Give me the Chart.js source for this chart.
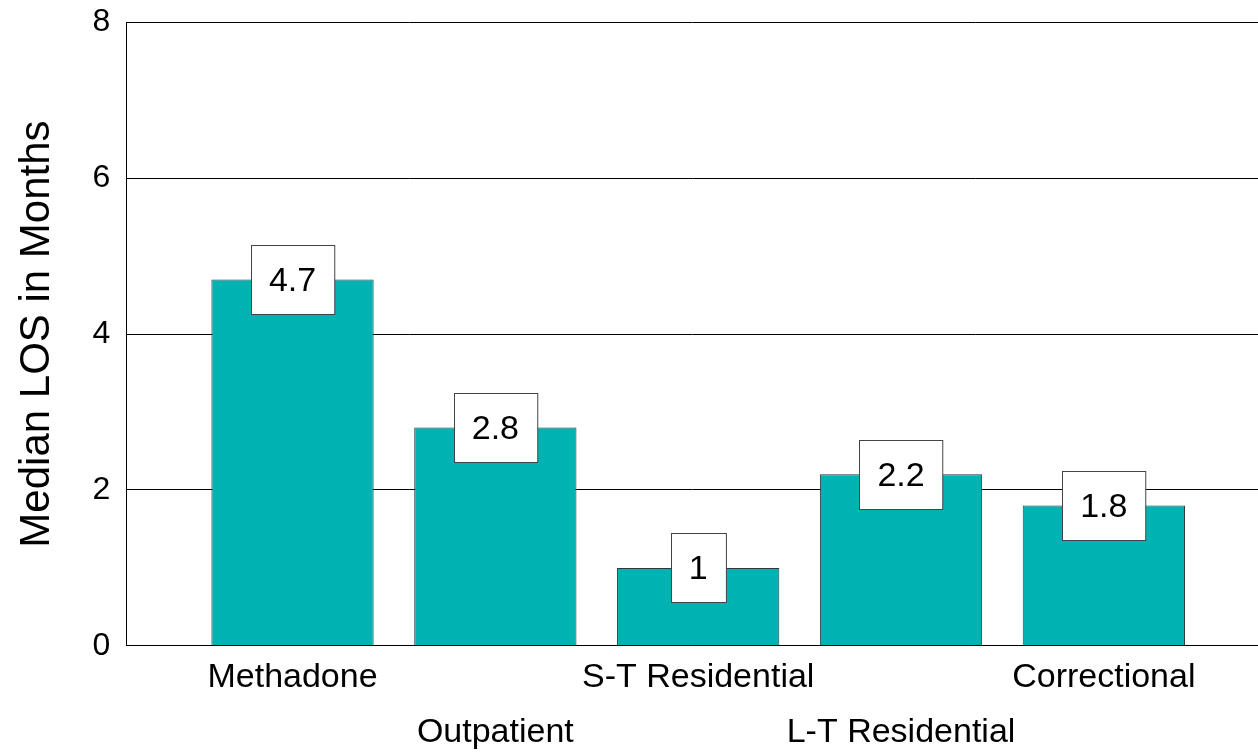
<!DOCTYPE html>
<html>
<head>
<meta charset="utf-8">
<script src="https://cdn.jsdelivr.net/npm/chart.js@4.4.0/dist/chart.umd.min.js"></script>
<style>
  html, body { margin: 0; padding: 0; background: #fff; overflow: hidden; }
  #page { width: 1258px; height: 753px; overflow: hidden; position: relative; }
  #wrap { position: absolute; left: 0; top: -13px; width: 1258px; height: 769px; }
</style>
</head>
<body>
<div id="page"><div id="wrap"><canvas id="myChart"></canvas></div></div>
<script>
const programs = ["Methadone", "Outpatient", "S-T Residential", "L-T Residential", "Correctional"];
const medianLos = [4.7, 2.8, 1, 2.2, 1.8];
const yTicks = [0, 2, 4, 6, 8];

const FONT = "'Liberation Sans', Arial, sans-serif";

// white boxes with the value, centred on the top edge of each bar
const valueBoxes = {
  id: "valueBoxes",
  afterDatasetsDraw(chart)
  {
    const ctx = chart.ctx;
    const meta = chart.getDatasetMeta(0);
    ctx.save();
    ctx.font = "34px " + FONT;
    ctx.textAlign = "center";
    ctx.textBaseline = "middle";
    meta.data.forEach((bar, i) =>
    {
      const text = String(medianLos[i]);
      const w = ctx.measureText(text).width + 36;
      const h = 69;
      const x = Math.round(bar.x - w / 2) + 0.5;
      const y = Math.round(bar.y - h / 2) + 0.5;
      ctx.fillStyle = "#fff";
      ctx.fillRect(x, y, w, h);
      ctx.strokeStyle = "#444";
      ctx.lineWidth = 1;
      ctx.strokeRect(x, y, w, h);
      ctx.fillStyle = "#000";
      ctx.fillText(text, bar.x, bar.y + 2);
    });
    ctx.restore();
  }
};

new Chart(document.getElementById("myChart"), {
  type: "bar",
  data: {
    datasets: [{
      data: medianLos.map((v, i) => ({x: i, y: v})),
      backgroundColor: "#00B3B3",
      borderColor: "#2a3a3a",
      borderWidth: 1,
      barPercentage: 0.8,
      categoryPercentage: 1,
    }],
  },
  plugins: [valueBoxes],
  options: {
    responsive: true,
    maintainAspectRatio: false,
    animation: false,
    devicePixelRatio: 1,
    layout: {padding: {top: 6, right: 0, bottom: 0, left: 12}},
    plugins: {
      legend: {display: false},
      tooltip: {enabled: false},
    },
    scales: {
      x: {
        type: "linear",
        offset: false,
        min: -0.82,
        max: 4.76,
        afterBuildTicks: scale =>
        {
          scale.ticks = programs.map((p, i) => ({value: i}));
        },
        ticks: {
          autoSkip: false,
          maxRotation: 0,
          padding: -4,
          color: "#000",
          font: {family: FONT, size: 34, lineHeight: 1.62},
          callback: (v, i) => i % 2 === 0 ? [programs[i], ""] : ["", programs[i]],
        },
        grid: {display: false, offset: false},
        border: {display: true, color: "#000", width: 1},
      },
      y: {
        min: 0,
        max: 8,
        afterBuildTicks: scale =>
        {
          scale.ticks = yTicks.map(v => ({value: v}));
        },
        ticks: {
          padding: 16,
          color: "#000",
          font: {family: FONT, size: 32},
        },
        grid: {color: "#000", lineWidth: 1, drawTicks: false},
        border: {display: true, color: "#000", width: 1},
        title: {
          display: true,
          text: "Median LOS in Months",
          color: "#000",
          font: {family: FONT, size: 42},
          padding: {top: 0, bottom: 14},
        },
      },
    },
  },
});
</script>
</body>
</html>
